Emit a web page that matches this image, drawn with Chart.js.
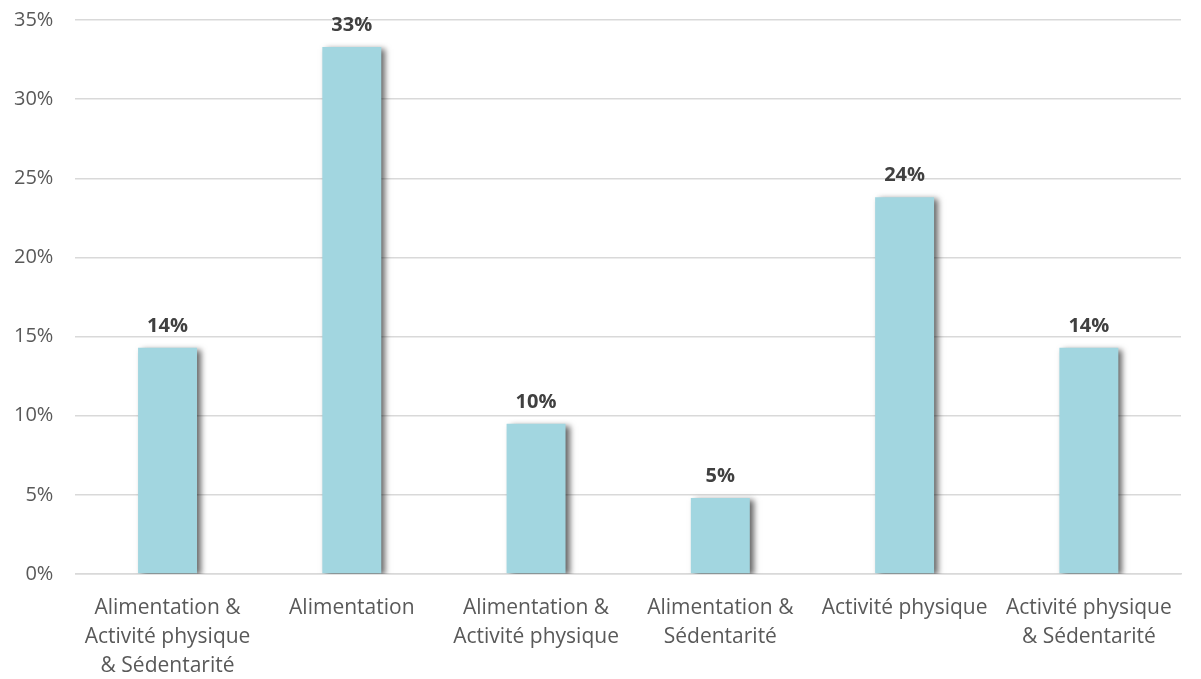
<!DOCTYPE html>
<html>
<head>
<meta charset="utf-8">
<script src="https://cdn.jsdelivr.net/npm/chart.js@4.4.1/dist/chart.umd.min.js"></script>
<style>
  html, body { margin: 0; padding: 0; background: #fff; }
  #wrap { width: 1201px; height: 679px; }
</style>
</head>
<body>
<div id="wrap"><canvas id="chart"></canvas></div>
<script>
// data
const categories = [
    ['Alimentation &', 'Activité physique', '& Sédentarité'],
    'Alimentation',
    ['Alimentation &', 'Activité physique'],
    ['Alimentation &', 'Sédentarité'],
    'Activité physique',
    ['Activité physique', '& Sédentarité']
];
const shares = [14.3, 33.3, 9.5, 4.8, 23.8, 14.3];
const yTicks = [0, 5, 10, 15, 20, 25, 30, 35];

const FONT = "'Open Sans', sans-serif";

// shadow behind bars
const barShadow = {
    id: 'barShadow',
    beforeDatasetsDraw(chart) {
        const ctx = chart.ctx;
        ctx.save();
        ctx.shadowColor = 'rgba(0,0,0,0.6)';
        ctx.shadowBlur = 6;
        ctx.shadowOffsetX = 4;
        ctx.shadowOffsetY = 2;
    },
    afterDatasetsDraw(chart) {
        chart.ctx.restore();
    }
};

// value labels above bars
const valueLabels = {
    id: 'valueLabels',
    afterDatasetsDraw(chart) {
        const ctx = chart.ctx;
        const meta = chart.getDatasetMeta(0);
        ctx.save();
        ctx.font = "bold 20px " + FONT;
        ctx.fillStyle = '#404040';
        ctx.textAlign = 'center';
        ctx.textBaseline = 'alphabetic';
        meta.data.forEach((bar, i) => {
            ctx.fillText(Math.round(shares[i]) + '%', bar.x, bar.y - 16);
        });
        ctx.restore();
    }
};

new Chart(document.getElementById('chart'), {
    type: 'bar',
    data: {
        labels: categories,
        datasets: [{
            data: shares,
            backgroundColor: '#a2d6e0',
            borderWidth: 0,
            barPercentage: 0.32,
            categoryPercentage: 1.0
        }]
    },
    options: {
        responsive: true,
        maintainAspectRatio: false,
        animation: false,
        layout: { padding: { top: 20, right: 20, left: -8, bottom: 0 } },
        plugins: {
            legend: { display: false },
            tooltip: { enabled: false }
        },
        scales: {
            x: {
                afterFit(axis) {
                    axis.height = 105;
                },
                grid: { display: false, drawTicks: false },
                border: { color: '#d9d9d9', width: 1.5 },
                ticks: {
                    color: '#595959',
                    font: { family: FONT, size: 21, lineHeight: 1.38 },
                    maxRotation: 0,
                    autoSkip: false,
                    padding: 20
                }
            },
            y: {
                min: 0,
                max: 35,
                afterBuildTicks(axis) {
                    axis.ticks = yTicks.map(v => ({ value: v }));
                },
                afterFit(axis) {
                    axis.paddingTop = 0;
                    axis.paddingBottom = 0;
                },
                grid: { color: '#d9d9d9', lineWidth: 1.5, drawTicks: false },
                border: { display: false },
                ticks: {
                    color: '#595959',
                    font: { family: FONT, size: 20 },
                    padding: 22,
                    callback: v => v + '%'
                }
            }
        }
    },
    plugins: [barShadow, valueLabels]
});
</script>
</body>
</html>
